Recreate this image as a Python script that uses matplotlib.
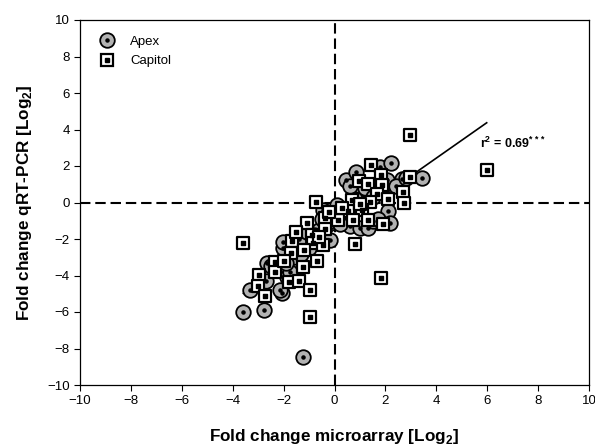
import numpy as np
import matplotlib
matplotlib.use("Agg")
import matplotlib.pyplot as plt
from matplotlib.lines import Line2D

plt.rcParams['font.family'] = ['Liberation Sans', 'DejaVu Sans']
plt.rcParams['mathtext.fontset'] = 'custom'
plt.rcParams['mathtext.rm'] = 'Liberation Sans'
plt.rcParams['mathtext.bf'] = 'Liberation Sans:bold'
plt.rcParams['lines.scale_dashes'] = False

# Apex (circles)
apex_x = [-3.58, -2.76, -1.25, -3.32, -2.07, -2.14, -2.66, -2.01, -2.01, -1.88,
          -1.75, -0.18, -2.5, -1.6, -1.3, -1.0, -0.6, -0.3, -0.44, 0.09,
          0.3, 0.6, 1.0, 1.33, 1.5, 2.11, 2.2, 0.44, 0.85, 1.79,
          2.21, 2.05, 2.64, 3.43, 1.2, 1.5, 0.8, 2.4, -1.4, -0.8,
          -1.9, -1.1, -0.5, 0.2, 1.7, 0.6, 2.8, -2.7]
apex_y = [-5.98, -5.89, -8.48, -4.79, -4.98, -4.8, -3.30, -2.51, -2.15, -4.07,
          -3.79, -2.05, -3.5, -3.0, -2.8, -2.5, -1.5, -1.1, -0.41, -0.14,
          -0.5, -1.3, -1.4, -1.41, -1.0, -0.47, -1.15, 1.25, 1.67, 1.96,
          2.15, 1.25, 1.27, 1.32, 0.8, 0.3, 0.2, 0.9, -2.0, -1.8,
          -3.3, -1.6, -0.9, -1.2, -0.9, 0.9, 1.35, -4.3]

# Capitol (squares)
capitol_x = [2.97, 5.98, 1.44, 1.82, 0.95, 2.97, 1.33, 1.85, 2.70, 1.68,
             2.74, -0.72, 1.39, 0.68, 0.54, 1.1, -0.37, 0.15, 0.72, 1.3,
             1.9, -1.1, -0.37, -0.9, -3.61, 0.81, -1.66, -0.83, -0.46, -1.7,
             -0.7, -2.33, -1.22, -2.34, -2.98, -1.78, -1.38, -3.0, 1.81, -0.97,
             -2.72, -0.95, -1.5, -1.2, -0.6, -0.2, 0.3, 1.0, 2.1, -2.0]
capitol_y = [3.7, 1.8, 2.05, 1.5, 1.2, 1.38, 1.0, 0.96, 0.6, 0.45,
             -0.05, 0.05, 0.05, 0.14, -0.44, -0.4, -0.87, -0.94, -0.94, -0.94,
             -1.16, -1.14, -1.47, -1.76, -2.22, -2.3, -2.1, -2.24, -2.35, -2.74,
             -3.2, -3.26, -3.56, -3.82, -3.96, -4.38, -4.3, -4.56, -4.16, -4.82,
             -5.12, -6.26, -1.6, -2.6, -1.9, -0.5, -0.3, -0.1, 0.2, -3.2]

# Regression line (as printed)
fit_x = [-3.58, 5.98]
fit_slope = 0.978
fit_intercept = -1.48
r2_label = r'r$^\mathbf{2}$ = 0.69$^\mathbf{***}$'

fig = plt.figure(figsize=(5.95, 4.47), dpi=100)
ax = fig.add_axes([80/595, 62/447, 509/595, 365/447])

ax.axhline(0, color='black', lw=1.5, dashes=(7.5, 3.5), zorder=1)
ax.axvline(0, color='black', lw=1.5, dashes=(7.5, 3.5), zorder=1)

fx = np.array(fit_x)
ax.plot(fx, fit_slope * fx + fit_intercept, color='black', lw=1.2, zorder=1.5)

ax.scatter(apex_x, apex_y, s=110, marker='o', facecolor='#b2b2b2',
           edgecolor='black', linewidths=1.3, zorder=2)
ax.scatter(apex_x, apex_y, s=5, marker='o', color='black', zorder=2.1)
ax.scatter(capitol_x, capitol_y, s=80, marker='s', facecolor='white',
           edgecolor='black', linewidths=1.6, zorder=3)
ax.scatter(capitol_x, capitol_y, s=5, marker='s', color='black', zorder=3.1)

ax.text(5.72, 3.26, r2_label, fontsize=9, fontweight='bold', ha='left', va='center')

# legend
h1 = Line2D([], [], marker='o', ls='none', markersize=10.5, markerfacecolor='#b2b2b2',
            markeredgecolor='black', markeredgewidth=1.3)
h1d = Line2D([], [], marker='o', ls='none', markersize=2.2, color='black')
h2 = Line2D([], [], marker='s', ls='none', markersize=8.9, markerfacecolor='white',
            markeredgecolor='black', markeredgewidth=1.6)
h2d = Line2D([], [], marker='s', ls='none', markersize=2.2, color='black')
ax.legend([(h1, h1d), (h2, h2d)], ['Apex', 'Capitol'], loc='upper left',
          bbox_to_anchor=(0.01, 0.99), frameon=False, fontsize=9.5,
          handletextpad=1.0, labelspacing=0.55, handlelength=1.5)

ax.set_xlim(-10, 10)
ax.set_ylim(-10, 10)
ax.set_xticks(np.arange(-10, 11, 2))
ax.set_yticks(np.arange(-10, 11, 2))
ax.tick_params(direction='out', length=4, width=0.8, labelsize=9.5, top=False, right=False)
for sp in ax.spines.values():
    sp.set_linewidth(0.9)

ax.set_xlabel(r'Fold change microarray [Log$_\mathbf{2}$]', fontsize=12.3, fontweight='bold', labelpad=14)
ax.set_ylabel(r'Fold change qRT-PCR [Log$_\mathbf{2}$]', fontsize=12.3, fontweight='bold', labelpad=9)

fig.savefig('out.png', dpi=100)
